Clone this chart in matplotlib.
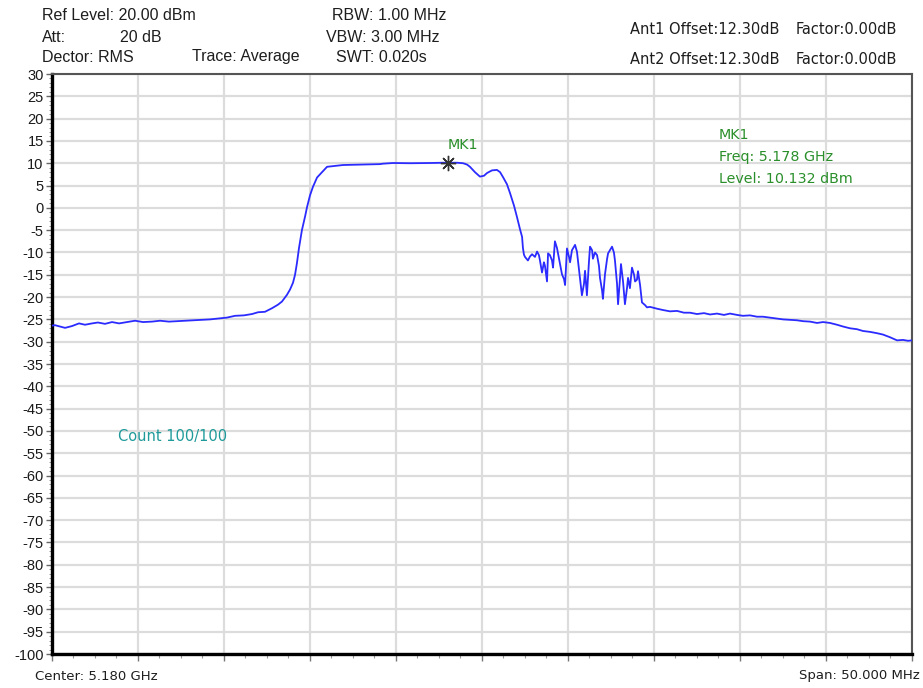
import matplotlib
matplotlib.use("Agg")
import matplotlib.pyplot as plt
from matplotlib.ticker import MultipleLocator, NullFormatter

plt.rcParams['axes.unicode_minus'] = False

# ---- data ----
start_mhz = 5155.0
center_ghz = 5.180
span_mhz = 50.0
freq_offset_mhz = [
    0.00, 0.17, 0.47, 0.76, 1.16, 1.57, 1.92, 2.33, 2.67, 3.08, 3.49, 3.90, 4.36, 4.83,
    5.29, 5.81, 6.28, 6.80, 7.27, 7.73, 8.20, 8.72, 9.19, 9.71, 10.17, 10.64, 11.16,
    11.63, 11.98, 12.38, 12.79, 13.14, 13.37, 13.66, 13.84, 14.01, 14.13, 14.24, 14.36,
    14.53, 14.71, 14.83, 15.00, 15.17, 15.41, 15.70, 15.99, 16.45, 16.92, 17.91, 19.07,
    19.24, 19.83, 20.81, 21.98, 23.00, 23.60, 23.90, 24.13, 24.30, 24.59, 24.88, 25.12,
    25.29, 25.58, 25.87, 26.05, 26.22, 26.45, 26.63, 26.86, 27.03, 27.21, 27.33, 27.38,
    27.44, 27.50, 27.67, 27.79, 27.91, 28.08, 28.20, 28.31, 28.37, 28.49, 28.60, 28.66,
    28.78, 28.84, 28.95, 29.07, 29.13, 29.24, 29.36, 29.42, 29.53, 29.65, 29.77, 29.83,
    29.94, 30.06, 30.12, 30.23, 30.41, 30.52, 30.58, 30.70, 30.81, 30.93, 30.99, 31.10,
    31.22, 31.28, 31.40, 31.45, 31.57, 31.69, 31.80, 31.86, 31.98, 32.03, 32.15, 32.27,
    32.33, 32.44, 32.56, 32.67, 32.73, 32.85, 32.91, 33.02, 33.08, 33.20, 33.31, 33.43,
    33.49, 33.60, 33.72, 33.84, 33.90, 34.01, 34.07, 34.19, 34.30, 34.48, 34.59, 34.77,
    35.17, 35.52, 35.93, 36.34, 36.74, 37.09, 37.50, 37.91, 38.26, 38.66, 39.07, 39.42,
    39.83, 40.17, 40.58, 40.99, 41.34, 41.74, 42.15, 42.50, 42.91, 43.31, 43.66, 44.07,
    44.48, 44.83, 45.23, 45.64, 45.99, 46.40, 46.80, 47.15, 47.56, 47.97, 48.31, 48.72,
    49.13, 49.48, 49.77, 50.00,
]
level_dbm = [
    -26.4, -26.3, -26.6, -26.9, -26.5, -25.9, -26.2, -25.9, -25.7, -26.0, -25.6, -25.9, -25.6, -25.3,
    -25.6, -25.5, -25.3, -25.5, -25.4, -25.3, -25.2, -25.1, -25.0, -24.8, -24.6, -24.2, -24.1,
    -23.8, -23.4, -23.3, -22.5, -21.7, -21.0, -19.5, -18.3, -16.8, -15.0, -12.4, -9.0,
    -5.0, -2.0, 0.2, 2.8, 4.7, 6.8, 8.0, 9.2, 9.4, 9.6, 9.7, 9.8,
    9.9, 10.05, 10.0, 10.05, 10.13, 10.1, 10.0, 9.7, 9.2, 8.0, 7.0, 7.2,
    7.8, 8.4, 8.5, 8.0, 6.9, 5.3, 3.3, 0.5, -2.0, -4.8, -6.5, -9.0,
    -10.5, -11.0, -11.8, -10.9, -10.4, -11.0, -9.8, -10.6, -11.8, -14.5, -12.2, -13.0,
    -16.5, -10.2, -10.6, -11.8, -13.4, -7.5, -9.0, -10.2, -12.5, -14.9, -16.0, -17.3,
    -9.1, -11.0, -12.2, -9.5, -8.3, -9.8, -11.8, -16.0, -19.6, -17.0, -14.1, -19.6,
    -12.0, -8.7, -9.5, -11.4, -10.0, -10.6, -13.0, -15.7, -18.5, -20.4, -14.9, -11.5,
    -10.2, -9.5, -8.7, -10.0, -11.8, -17.0, -21.6, -16.0, -12.6, -16.5, -21.6, -18.0,
    -15.7, -18.0, -13.4, -15.0, -16.5, -16.1, -14.2, -17.3, -21.2, -21.8, -22.3, -22.2,
    -22.6, -22.9, -23.2, -23.1, -23.5, -23.5, -23.8, -23.6, -23.9, -23.7, -24.0, -23.7,
    -24.0, -24.2, -24.1, -24.4, -24.4, -24.6, -24.8, -25.0, -25.1, -25.2, -25.4, -25.5,
    -25.8, -25.6, -25.8, -26.2, -26.6, -27.0, -27.2, -27.6, -27.8, -28.1, -28.4, -29.0,
    -29.7, -29.6, -29.8, -29.7,
]
marker_freq_ghz = 5.178
marker_level = 10.132
y_ticks = list(range(-100, 31, 5))

freq_mhz = [start_mhz + f for f in freq_offset_mhz]

# ---- figure ----
W, H = 923, 688
fig = plt.figure(figsize=(W / 100, H / 100), dpi=100)
ax = fig.add_axes([52 / W, 1 - 654 / H, 860 / W, 580 / H])

ax.set_xlim(start_mhz, start_mhz + span_mhz)
ax.set_ylim(-100, 30)
ax.xaxis.set_major_locator(MultipleLocator(span_mhz / 10))
ax.xaxis.set_minor_locator(MultipleLocator(span_mhz / 40))
ax.xaxis.set_major_formatter(NullFormatter())
ax.set_yticks(y_ticks)
ax.yaxis.set_minor_locator(MultipleLocator(1))
ax.tick_params(axis='y', which='major', length=4, width=1, color='#666666',
               labelsize=10.5, labelcolor='#1a1a1a', pad=2)
ax.tick_params(axis='y', which='minor', length=2, width=0.6, color='#888888')
ax.tick_params(axis='x', which='major', length=5, width=1, color='#777777')
ax.tick_params(axis='x', which='minor', length=3, width=0.8, color='#999999')
for lab in ax.get_yticklabels():
    lab.set_family('Liberation Sans')

ax.grid(True, which='major', color='#dcdcdc', linewidth=1.6)
ax.set_axisbelow(True)
for s in ['left', 'bottom']:
    ax.spines[s].set_linewidth(2.4)
    ax.spines[s].set_color('black')
for s in ['top', 'right']:
    ax.spines[s].set_linewidth(1.5)
    ax.spines[s].set_color('#555555')

ax.plot(freq_mhz, level_dbm, color='#2b2bff', linewidth=1.3, zorder=3)
ax.plot([marker_freq_ghz * 1000], [marker_level], marker=(8, 2, 0), markersize=11,
        color='#333333', markeredgewidth=1.0, linestyle='none', zorder=4)
ax.text(marker_freq_ghz * 1000, 14.1, 'MK1', color='#2a8f2a', fontsize=10.3,
        family='DejaVu Sans', ha='left', va='center')

# ---- texts ----
def ftext(x, y, s, color='#1e1e1e', family='Liberation Sans', size=11.5, ha='left'):
    fig.text(x / W, 1 - y / H, s, color=color, family=family, fontsize=size,
             ha=ha, va='center')

ftext(42, 16, 'Ref Level: 20.00 dBm')
ftext(42, 37, 'Att:')
ftext(120, 37, '20 dB')
ftext(42, 57, 'Dector: RMS')
ftext(192, 57, 'Trace: Average')
ftext(332, 16, 'RBW: 1.00 MHz')
ftext(326, 37, 'VBW: 3.00 MHz')
ftext(336, 57, 'SWT: 0.020s')

ftext(630, 30, 'Ant1 Offset:12.30dB', family='DejaVu Sans', size=10.5)
ftext(796, 30, 'Factor:0.00dB', family='DejaVu Sans', size=10.5)
ftext(630, 59, 'Ant2 Offset:12.30dB', family='DejaVu Sans', size=10.5)
ftext(796, 59, 'Factor:0.00dB', family='DejaVu Sans', size=10.5)

green = '#2a8f2a'
ftext(719, 135, 'MK1', color=green, family='DejaVu Sans', size=10.3)
ftext(719, 157, 'Freq: %.3f GHz' % marker_freq_ghz, color=green, family='DejaVu Sans', size=10.3)
ftext(719, 179, 'Level: %.3f dBm' % marker_level, color=green, family='DejaVu Sans', size=10.3)

ftext(118, 436, 'Count 100/100', color='#1f9a9a', family='DejaVu Sans', size=10.5)

ftext(35, 676, 'Center: %.3f GHz' % center_ghz, family='DejaVu Sans', size=9.5)
ftext(920, 676, 'Span: %.3f MHz' % span_mhz, family='DejaVu Sans', size=9.5, ha='right')

fig.savefig('out.png', dpi=100, facecolor='white')
